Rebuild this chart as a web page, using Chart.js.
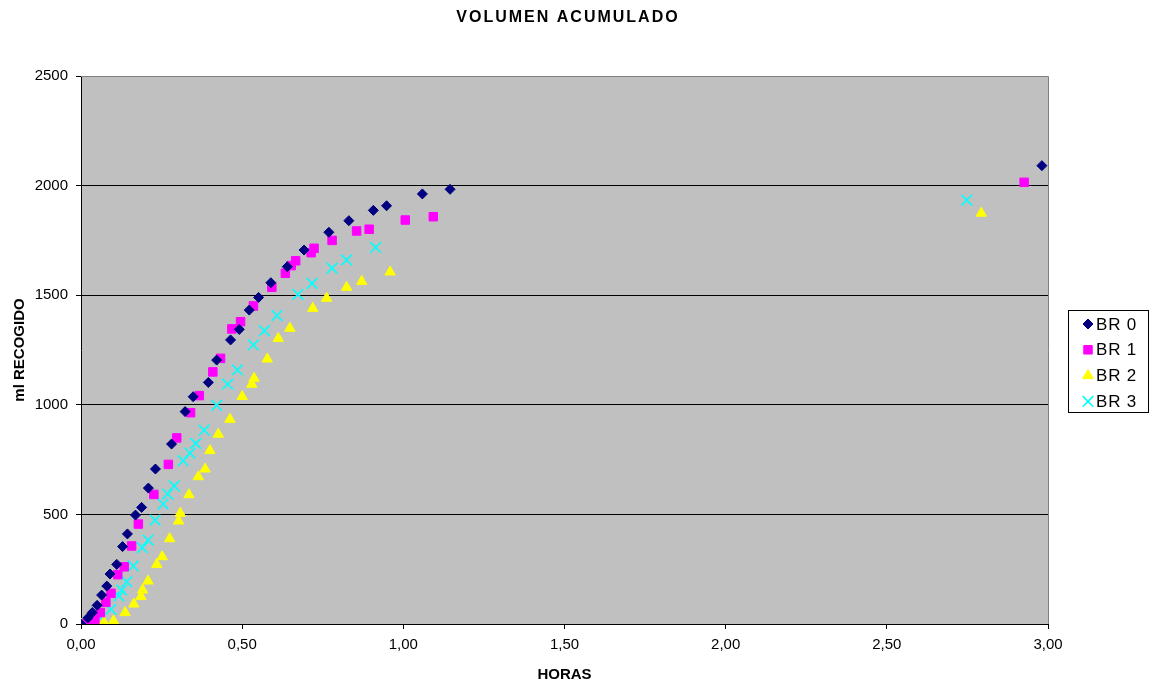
<!DOCTYPE html>
<html>
<head>
<meta charset="utf-8">
<script src="https://cdn.jsdelivr.net/npm/chart.js@4/dist/chart.umd.min.js"></script>
<style>
  body { margin: 0; background: #fff; }
  #wrap { width: 1152px; height: 688px; }
</style>
</head>
<body>
<div id="wrap"><canvas id="myChart" width="1152" height="688"></canvas></div>
<script>
// Data (horas, ml)
const br0Horas = [0, 0.021, 0.035, 0.050, 0.064, 0.080, 0.090, 0.111, 0.129, 0.144, 0.169, 0.188, 0.209, 0.231, 0.281, 0.323, 0.348, 0.395, 0.421, 0.464, 0.491, 0.522, 0.551, 0.589, 0.640, 0.692, 0.769, 0.831, 0.907, 0.948, 1.059, 1.145, 2.981];
const br0Ml    = [0, 27, 52, 85, 132, 173, 228, 272, 353, 411, 497, 532, 620, 707, 821, 969, 1037, 1102, 1204, 1296, 1344, 1432, 1490, 1557, 1630, 1706, 1787, 1840, 1887, 1908, 1962, 1983, 2091];

const br1Horas = [0, 0.023, 0.043, 0.060, 0.077, 0.093, 0.114, 0.134, 0.157, 0.178, 0.226, 0.271, 0.297, 0.340, 0.367, 0.409, 0.433, 0.468, 0.495, 0.535, 0.592, 0.634, 0.652, 0.666, 0.714, 0.723, 0.779, 0.855, 0.894, 1.006, 1.093, 2.926];
const br1Ml    = [0, 3, 21, 52, 99, 140, 225, 261, 356, 456, 591, 728, 849, 964, 1042, 1150, 1212, 1346, 1379, 1451, 1536, 1600, 1635, 1657, 1694, 1714, 1750, 1793, 1801, 1843, 1858, 2015];

const br2Horas = [0, 0.071, 0.101, 0.137, 0.164, 0.186, 0.191, 0.208, 0.235, 0.252, 0.275, 0.303, 0.308, 0.335, 0.364, 0.385, 0.400, 0.426, 0.462, 0.500, 0.530, 0.537, 0.578, 0.612, 0.648, 0.719, 0.762, 0.824, 0.871, 0.959, 2.793];
const br2Ml    = [0, 7, 14, 52, 91, 125, 155, 196, 272, 307, 389, 470, 505, 590, 672, 707, 791, 866, 934, 1038, 1094, 1121, 1209, 1303, 1349, 1440, 1486, 1536, 1563, 1606, 1874];

const br3Horas = [0, 0.023, 0.043, 0.059, 0.093, 0.118, 0.126, 0.142, 0.162, 0.190, 0.208, 0.230, 0.255, 0.269, 0.289, 0.317, 0.338, 0.356, 0.382, 0.421, 0.455, 0.485, 0.535, 0.569, 0.608, 0.673, 0.717, 0.779, 0.824, 0.914, 2.748];
const br3Ml    = [0, 3, 18, 29, 67, 128, 155, 193, 265, 348, 383, 474, 547, 593, 630, 745, 780, 824, 884, 997, 1094, 1159, 1273, 1338, 1407, 1504, 1554, 1623, 1661, 1718, 1934];

const seriesNames = ['BR 0', 'BR 1', 'BR 2', 'BR 3'];
const yTicks = [0, 500, 1000, 1500, 2000, 2500];
const xTicks = [0, 0.5, 1, 1.5, 2, 2.5, 3];

const FONT = "'Liberation Sans', Arial, sans-serif";
Chart.defaults.font.family = FONT;
Chart.defaults.color = '#000';

function pts(xs, ys) {
  return xs.map((x, i) => ({ x: x, y: ys[i] }));
}

const styles = [
  { color: '#000080', pointStyle: 'rectRot', radius: 5, border: 1 },
  { color: '#FF00FF', pointStyle: 'rect', radius: 6, border: 1 },
  { color: '#FFFF00', pointStyle: 'triangle', radius: 6, border: 1 },
  { color: '#00FFFF', pointStyle: 'crossRot', radius: 7.5, border: 1.6 },
];

const allData = [pts(br0Horas, br0Ml), pts(br1Horas, br1Ml), pts(br2Horas, br2Ml), pts(br3Horas, br3Ml)];

const datasets = allData.map((d, i) => ({
  label: seriesNames[i],
  data: d,
  showLine: false,
  pointStyle: styles[i].pointStyle,
  pointRadius: styles[i].radius,
  pointBorderWidth: styles[i].border,
  borderColor: styles[i].color,
  backgroundColor: styles[i].color,
  pointHoverRadius: styles[i].radius,
}));

// gray plot background + borders, title and boxed legend
const excelLook = {
  id: 'excelLook',
  beforeDraw(chart) {
    const { ctx, chartArea: a } = chart;
    ctx.save();
    ctx.fillStyle = '#C0C0C0';
    ctx.fillRect(a.left, a.top, a.right - a.left, a.bottom - a.top);
    ctx.restore();
  },
  beforeDatasetsDraw(chart) {
    const { ctx, chartArea: a } = chart;
    ctx.save();
    ctx.strokeStyle = '#808080';
    ctx.lineWidth = 1;
    ctx.beginPath();
    ctx.moveTo(a.left, a.top + 0.5);
    ctx.lineTo(a.right + 0.5, a.top + 0.5);
    ctx.lineTo(a.right + 0.5, a.bottom);
    ctx.stroke();
    ctx.restore();
  },
  afterDraw(chart) {
    const ctx = chart.ctx;
    ctx.save();
    // title
    ctx.fillStyle = '#000';
    ctx.font = 'bold 16px ' + FONT;
    ctx.textAlign = 'center';
    ctx.textBaseline = 'middle';
    if ('letterSpacing' in ctx) ctx.letterSpacing = '2px';
    ctx.fillText('VOLUMEN ACUMULADO', 568, 18);
    if ('letterSpacing' in ctx) ctx.letterSpacing = '0px';

    // legend
    const bx = 1068.5, by = 310.5, bw = 80, bh = 102;
    ctx.fillStyle = '#fff';
    ctx.fillRect(bx, by, bw, bh);
    ctx.strokeStyle = '#000';
    ctx.lineWidth = 1;
    ctx.strokeRect(bx, by, bw, bh);
    ctx.font = '17px ' + FONT;
    ctx.textAlign = 'left';
    ctx.textBaseline = 'middle';
    if ('letterSpacing' in ctx) ctx.letterSpacing = '0.8px';
    seriesNames.forEach((name, i) => {
      const y = 324 + i * 25.8;
      const s = styles[i];
      ctx.fillStyle = s.color;
      ctx.strokeStyle = s.color;
      ctx.lineWidth = s.border;
      Chart.helpers.drawPoint(ctx, { pointStyle: s.pointStyle, radius: s.radius, rotation: 0, borderWidth: s.border }, 1088, y);
      ctx.fillStyle = '#000';
      ctx.fillText(name, 1096, y + 1);
    });
    ctx.restore();
  }
};

const config = {
  type: 'scatter',
  data: { datasets: datasets },
  options: {
    responsive: false,
    animation: false,
    devicePixelRatio: 1,
    layout: { padding: { top: 76, right: 104, left: 0, bottom: 0 } },
    plugins: {
      legend: { display: false },
      title: { display: false },
      tooltip: { enabled: false },
    },
    scales: {
      x: {
        type: 'linear',
        min: 0,
        max: 3,
        afterBuildTicks: (scale) => { scale.ticks = xTicks.map(v => ({ value: v })); },
        ticks: {
          font: { size: 15 },
          color: '#000',
          padding: 7,
          maxRotation: 0,
          callback: (v) => Number(v).toFixed(2).replace('.', ','),
        },
        grid: { drawOnChartArea: false, drawTicks: true, tickLength: 5, color: '#000' },
        border: { color: '#000', width: 1 },
        title: { display: true, text: 'HORAS', font: { size: 15, weight: 'bold' }, color: '#000', padding: { top: 0, bottom: 4 } },
        afterFit: (scale) => { scale.height = 64; scale.paddingLeft = 0; scale.paddingRight = 0; },
      },
      y: {
        min: 0,
        max: 2500,
        afterBuildTicks: (scale) => { scale.ticks = yTicks.map(v => ({ value: v })); },
        ticks: { font: { size: 15 }, color: '#000', padding: 8, callback: (v) => String(v) },
        grid: {
          color: (c) => (c.tick && c.tick.value === 2500 ? '#808080' : '#000'),
          tickColor: '#000',
          tickLength: 5,
          lineWidth: 1,
        },
        border: { color: '#000', width: 1 },
        title: { display: true, text: 'ml RECOGIDO', font: { size: 15, weight: 'bold' }, color: '#000', padding: { top: 11, bottom: 0 } },
        afterFit: (scale) => { scale.width = 81; scale.paddingTop = 0; scale.paddingBottom = 0; },
      },
    },
  },
  plugins: [excelLook],
};

const myChart = new Chart(document.getElementById('myChart'), config);
</script>
</body>
</html>
